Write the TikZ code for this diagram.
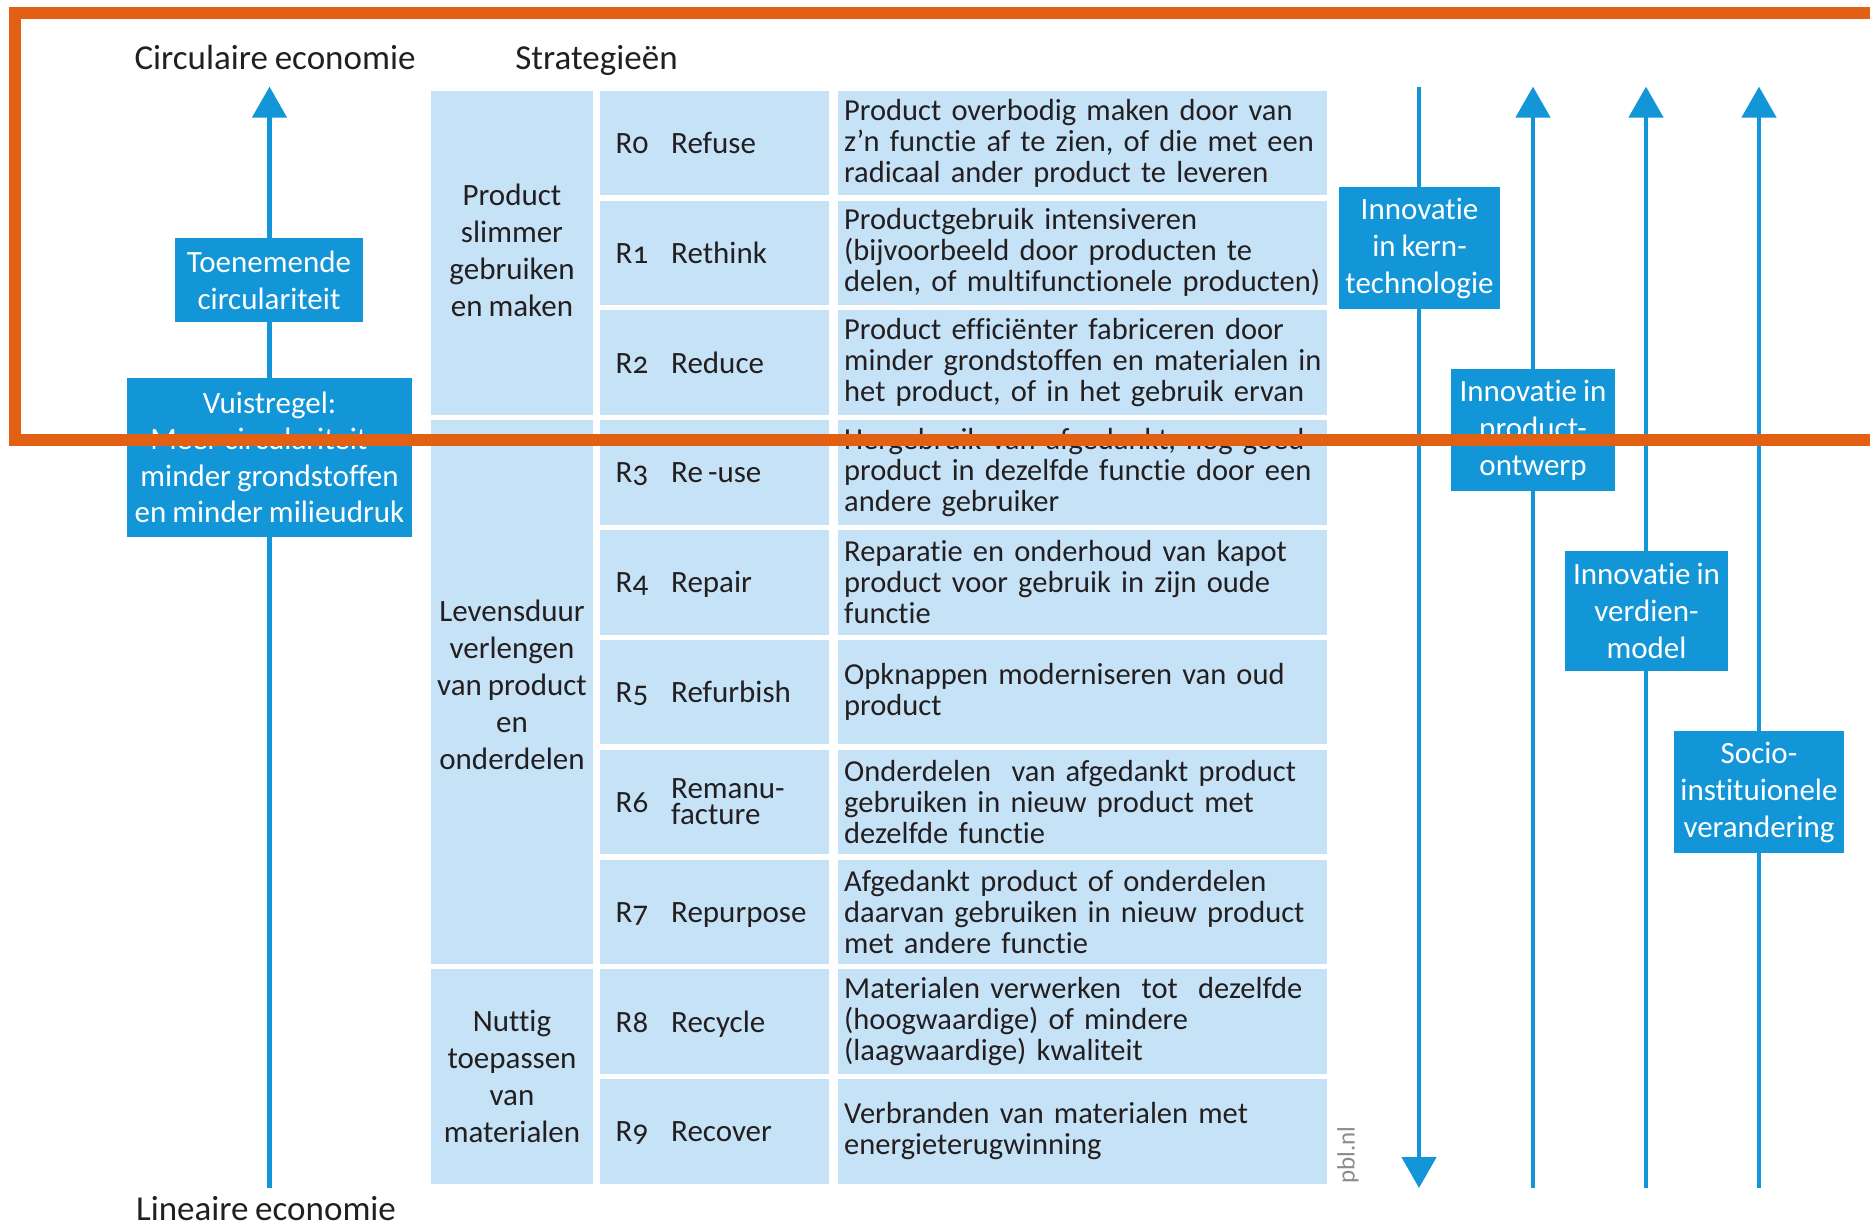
\documentclass[tikz,border=0pt]{standalone}
\usepackage{fontspec}
\setmainfont{Carlito}[Ligatures=NoCommon, WordSpace=0.85]
\newfontfamily\oldnum[Numbers=OldStyle, Ligatures=NoCommon]{Carlito}
\usetikzlibrary{arrows.meta}
\definecolor{pblue}{RGB}{18,150,216}
\definecolor{lblue}{RGB}{198,226,247}
\definecolor{txt}{RGB}{35,31,32}
\definecolor{orng}{RGB}{226,96,20}
\definecolor{pblgray}{RGB}{140,140,140}
\newcommand{\rrow}[5]{%
  \pgfmathsetmacro{\rtop}{90.5+109.83*#1}%
  \node[cell, minimum width=229pt] (rc#1) at (600,\rtop) {};
  \node[body, anchor=base west] (rn#1) at ([xshift=15.5pt,yshift=-10.5pt]rc#1.west) {\oldnum R#2};
  \node[body, #5] (rm#1) at ([xshift=71pt]rc#1.west) {#3};
  \node[cell, minimum width=489pt] (rd#1) at (838,\rtop) {};
  \node[desc, anchor=west] (rt#1) at ([xshift=6pt]rd#1.west) {#4};
}
\begin{document}
\begin{tikzpicture}[x=1pt,y=-1pt,
  body/.style={font=\fontsize{31}{31}\selectfont, text=txt, inner sep=0pt},
  desc/.style={font=\fontsize{30.5}{31}\selectfont, text=txt, inner sep=0pt, text width=520pt, align=left},
  title/.style={font=\fontsize{35}{35}\selectfont, text=txt, anchor=base, inner sep=0pt},
  bluebox/.style={fill=pblue, text=white, font=\fontsize{31}{37}\selectfont, align=center, inner sep=0pt},
  cell/.style={fill=lblue, inner sep=0pt, anchor=north west, minimum height=104.5pt},
  catcell/.style={fill=lblue, inner sep=0pt, anchor=north west, minimum width=162pt},
  cattext/.style={font=\fontsize{31}{37}\selectfont, text=txt, align=center, inner sep=0pt},
  flow/.style={draw=pblue, line width=4.6pt},
  tip/.style={-{Triangle[width=34pt,length=31pt]}},
  normname/.style={anchor=base west, yshift=-10.5pt},
  twoname/.style={anchor=west, align=left, font=\fontsize{31}{26}\selectfont}
]
\useasboundingbox (0,0) rectangle (1870,1225);
\fill[white] (0,0) rectangle (1870,1225);

% titles
\node[title] (ce) at (275,69.5) {Circulaire economie};
\node[title] (st) at (596.5,70) {Strategieën};
\node[title] (le) at (266,1220) {Lineaire economie};

% left axis
\coordinate (lbot) at (269.5,1188);
\coordinate (ltop) at (269.5,86.6);
\draw[flow, tip] (lbot) -- (ltop);
\node[bluebox, minimum width=188pt, minimum height=84pt] (toen) at (269,280) {Toenemende\\circulariteit};
\node[bluebox, minimum width=285pt, minimum height=159pt, font=\fontsize{31}{36.5}\selectfont] (vuist) at (269.5,457.5) {Vuistregel:\\Meer circulariteit =\\minder grondstoffen\\en minder milieudruk};

% category cells
\node[catcell, minimum height=324.2pt] (g1) at (431,90.5) {};
\node[catcell, minimum height=543.8pt] (g2) at (431,420) {};
\node[catcell, minimum height=214.8pt] (g3) at (431,969.1) {};
\node[cattext] (g1t) at (512,250) {Product\\slimmer\\gebruiken\\en maken};
\node[cattext] (g2t) at (512,685) {Levensduur\\verlengen\\van product\\en\\onderdelen};
\node[cattext] (g3t) at (512,1076) {Nuttig\\toepassen\\van\\materialen};

% rows
\rrow{0}{0}{Refuse}{Product overbodig maken door van\\z’n functie af te zien, of die met een\\radicaal ander product te leveren}{normname}
\rrow{1}{1}{Rethink}{Productgebruik intensiveren\\(bijvoorbeeld door producten te\\delen, of multifunctionele producten)}{normname}
\rrow{2}{2}{Reduce}{Product efficiënter fabriceren door\\minder grondstoffen en materialen in\\het product, of in het gebruik ervan}{normname}
\rrow{3}{3}{Re\,-use}{Hergebruik van afgedankt, nog goed\\product in dezelfde functie door een\\andere gebruiker}{normname}
\rrow{4}{4}{Repair}{Reparatie en onderhoud van kapot\\product voor gebruik in zijn oude\\functie}{normname}
\rrow{5}{5}{Refurbish}{Opknappen moderniseren van oud\\product}{normname}
\rrow{6}{6}{Remanu-\\facture}{Onderdelen\ \ van afgedankt product\\gebruiken in nieuw product met\\dezelfde functie}{twoname}
\rrow{7}{7}{Repurpose}{Afgedankt product of onderdelen\\daarvan gebruiken in nieuw product\\met andere functie}{normname}
\rrow{8}{8}{Recycle}{Materialen verwerken\ \ tot\ \ dezelfde\\(hoogwaardige) of mindere\\(laagwaardige) kwaliteit}{normname}
\rrow{9}{9}{Recover}{Verbranden van materialen met\\energieterugwinning}{normname}

\node[rotate=90, font=\fontsize{25}{25}\selectfont, text=pblgray, inner sep=0pt] (pbl) at (1348,1155) {pbl.nl};

% right axes
\coordinate (a1t) at (1419,86.6);  \coordinate (a1b) at (1419,1188);
\coordinate (a2t) at (1533,86.6);  \coordinate (a2b) at (1533,1188);
\coordinate (a3t) at (1646,86.6);  \coordinate (a3b) at (1646,1188);
\coordinate (a4t) at (1759,86.6);  \coordinate (a4b) at (1759,1188);
\draw[flow, tip] (a1t) -- (a1b);
\draw[flow, tip] (a2b) -- (a2t);
\draw[flow, tip] (a3b) -- (a3t);
\draw[flow, tip] (a4b) -- (a4t);
\node[bluebox, minimum width=161pt, minimum height=122.5pt] (kern) at (1419.5,248) {Innovatie\\in kern-\\technologie};
\node[bluebox, minimum width=164pt, minimum height=122pt] (prod) at (1533,430) {Innovatie in\\product-\\ontwerp};
\node[bluebox, minimum width=163pt, minimum height=120pt] (verd) at (1646.5,611) {Innovatie in\\verdien-\\model};
\node[bluebox, minimum width=170pt, minimum height=122pt] (socio) at (1759,792) {Socio-\\instituionele\\verandering};

% orange frame
\draw[orng, line width=12pt] (1900,13) -- (15,13) -- (15,440) -- (1900,440);
\end{tikzpicture}
\end{document}
